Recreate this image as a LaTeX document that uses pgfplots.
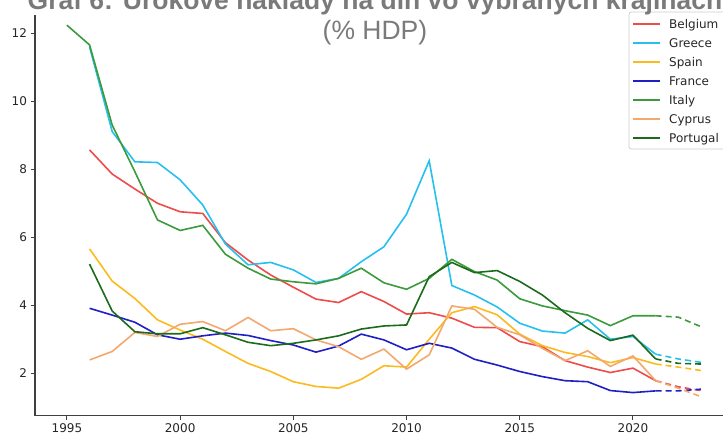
\documentclass[border=0pt]{standalone}
\usepackage{pgfplots}
\pgfplotsset{compat=1.18}
\usepackage{fontspec}
\setmainfont{DejaVu Sans}
\newfontfamily\arial{Liberation Sans}

\definecolor{cBE}{HTML}{EE4B4B}
\definecolor{cGR}{HTML}{27C0EE}
\definecolor{cES}{HTML}{FBBA1E}
\definecolor{cFR}{HTML}{1F1FC4}
\definecolor{cIT}{HTML}{3C9A3C}
\definecolor{cCY}{HTML}{F2A86E}
\definecolor{cPT}{HTML}{1B6B1B}
\definecolor{ctitle}{HTML}{7A7A7A}

\begin{document}
\begin{tikzpicture}
\useasboundingbox (0pt,0pt) rectangle (723pt,435pt);
\clip (0pt,0pt) rectangle (723pt,435pt);
\begin{axis}[
    at={(35pt,19.3pt)}, anchor=south west,
    scale only axis, width=697.6pt, height=400.7pt,
    xmin=1993.59, xmax=2024.4, ymin=0.75, ymax=12.54,
    axis x line*=bottom, axis y line*=left,
    axis line style={line width=1.2pt, color=black!75},
    xtick={1995,2000,...,2020}, ytick={2,4,...,12},
    tick align=outside, major tick length=4.5pt,
    tick style={line width=1pt, color=black!75},
    /pgf/number format/1000 sep={},
    /pgf/number format/assume math mode=true,
    ticklabel style={font=\fontsize{12}{14}\selectfont, text=black!85},
    every axis plot/.append style={line width=1.6pt},
]
% Belgium
\addplot[cBE] coordinates {(1996,8.57) (1997,7.86) (1998,7.42) (1999,7.00) (2000,6.75) (2001,6.70) (2002,5.84) (2003,5.33) (2004,4.89) (2005,4.53) (2006,4.18) (2007,4.08) (2008,4.40) (2009,4.11) (2010,3.74) (2011,3.78) (2012,3.62) (2013,3.35) (2014,3.34) (2015,2.93) (2016,2.78) (2017,2.37) (2018,2.18) (2019,2.02) (2020,2.15) (2021,1.78)};
% Greece
\addplot[cGR] coordinates {(1996,11.60) (1997,9.11) (1998,8.22) (1999,8.20) (2000,7.69) (2001,6.95) (2002,5.80) (2003,5.19) (2004,5.26) (2005,5.04) (2006,4.67) (2007,4.79) (2008,5.28) (2009,5.72) (2010,6.68) (2011,8.25) (2012,4.58) (2013,4.30) (2014,3.95) (2015,3.47) (2016,3.24) (2017,3.18) (2018,3.57) (2019,3.00) (2020,3.08) (2021,2.56)};
% Spain
\addplot[cES] coordinates {(1996,5.66) (1997,4.71) (1998,4.20) (1999,3.57) (2000,3.27) (2001,3.00) (2002,2.64) (2003,2.29) (2004,2.05) (2005,1.75) (2006,1.61) (2007,1.56) (2008,1.82) (2009,2.22) (2010,2.18) (2011,3.00) (2012,3.78) (2013,3.96) (2014,3.72) (2015,3.15) (2016,2.81) (2017,2.61) (2018,2.49) (2019,2.31) (2020,2.46) (2021,2.27)};
% France
\addplot[cFR] coordinates {(1996,3.91) (1997,3.71) (1998,3.50) (1999,3.13) (2000,3.00) (2001,3.10) (2002,3.18) (2003,3.11) (2004,2.96) (2005,2.83) (2006,2.62) (2007,2.80) (2008,3.15) (2009,2.98) (2010,2.69) (2011,2.88) (2012,2.74) (2013,2.41) (2014,2.24) (2015,2.05) (2016,1.90) (2017,1.78) (2018,1.75) (2019,1.49) (2020,1.43) (2021,1.48)};
% Italy
\addplot[cIT] coordinates {(1995,12.24) (1996,11.66) (1997,9.30) (1998,7.93) (1999,6.51) (2000,6.20) (2001,6.35) (2002,5.50) (2003,5.09) (2004,4.77) (2005,4.69) (2006,4.63) (2007,4.79) (2008,5.09) (2009,4.66) (2010,4.47) (2011,4.79) (2012,5.35) (2013,4.99) (2014,4.74) (2015,4.19) (2016,3.98) (2017,3.84) (2018,3.71) (2019,3.40) (2020,3.69) (2021,3.69)};
% Cyprus
\addplot[cCY] coordinates {(1996,2.39) (1997,2.64) (1998,3.20) (1999,3.08) (2000,3.44) (2001,3.52) (2002,3.25) (2003,3.64) (2004,3.25) (2005,3.31) (2006,2.98) (2007,2.78) (2008,2.41) (2009,2.71) (2010,2.12) (2011,2.54) (2012,3.98) (2013,3.88) (2014,3.35) (2015,3.13) (2016,2.73) (2017,2.37) (2018,2.66) (2019,2.20) (2020,2.51) (2021,1.78)};
% Portugal
\addplot[cPT] coordinates {(1996,5.21) (1997,3.83) (1998,3.22) (1999,3.16) (2000,3.16) (2001,3.34) (2002,3.13) (2003,2.91) (2004,2.81) (2005,2.88) (2006,2.98) (2007,3.10) (2008,3.30) (2009,3.39) (2010,3.42) (2011,4.84) (2012,5.26) (2013,4.96) (2014,5.02) (2015,4.70) (2016,4.30) (2017,3.78) (2018,3.32) (2019,2.96) (2020,3.12) (2021,2.42)};
% forecasts (dashed)
\addplot[cBE, dash pattern=on 6pt off 4pt] coordinates {(2021,1.78) (2022,1.60) (2023,1.49)};
\addplot[cGR, dash pattern=on 6pt off 4pt] coordinates {(2021,2.56) (2022,2.42) (2023,2.32)};
\addplot[cES, dash pattern=on 6pt off 4pt] coordinates {(2021,2.27) (2022,2.18) (2023,2.08)};
\addplot[cFR, dash pattern=on 6pt off 4pt] coordinates {(2021,1.48) (2022,1.48) (2023,1.53)};
\addplot[cIT, dash pattern=on 6pt off 4pt] coordinates {(2021,3.69) (2022,3.65) (2023,3.37)};
\addplot[cCY, dash pattern=on 6pt off 4pt] coordinates {(2021,1.78) (2022,1.56) (2023,1.31)};
\addplot[cPT, dash pattern=on 6pt off 4pt] coordinates {(2021,2.42) (2022,2.29) (2023,2.27)};
\end{axis}
% legend box (right side runs past the picture edge, as in the source)
\draw[black!20, line width=0.7pt, fill=white, rounded corners=2.5pt]
    (629pt,286pt) rectangle (740pt,423pt);
\foreach \c/\name [count=\i from 0] in {cBE/Belgium, cGR/Greece, cES/Spain,
        cFR/France, cIT/Italy, cCY/Cyprus, cPT/Portugal} {
    \pgfmathsetmacro{\yy}{411-19*\i}
    \draw[\c, line width=1.6pt] (633pt,\yy pt) -- (660pt,\yy pt);
    \node[anchor=base west, inner sep=0pt, text=black!85,
          font=\fontsize{12}{14}\selectfont] at (669pt,\yy pt-4.3pt) {\name};
}
\node[anchor=base, text=ctitle, font=\arial\bfseries\fontsize{26.5}{30}\selectfont, inner sep=0pt]
    at (375pt,425.5pt) {Graf 6: Úrokové náklady na dlh vo vybraných krajinách};
\node[anchor=base, text=ctitle, font=\arial\fontsize{26.5}{30}\selectfont, inner sep=0pt]
    at (375pt,395.5pt) {(\% HDP)};
\end{tikzpicture}
\end{document}
